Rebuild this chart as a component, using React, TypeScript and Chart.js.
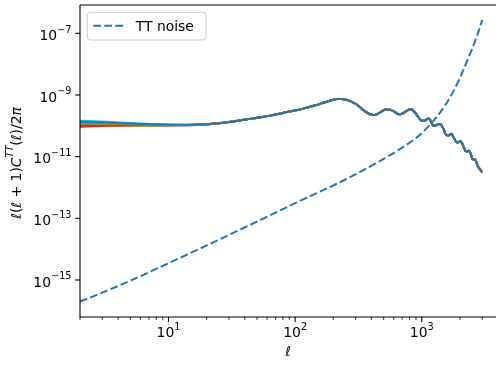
import { useEffect, useRef } from "react";
import { Chart, registerables } from "chart.js";

Chart.register(...registerables);

// Multipoles at which the spectra are sampled
const ELL = [
  2, 3, 4, 5, 6, 8, 10, 13, 16, 20, 25, 30, 36, 44, 55, 65, 80, 100, 120, 140, 160, 180, 200, 215,
  230, 245, 260, 280, 300, 325, 350, 380, 410, 440, 470, 500, 530, 560, 600, 640, 675, 710, 750,
  790, 815, 845, 880, 920, 960, 1000, 1050, 1100, 1130, 1165, 1200, 1235, 1280, 1330, 1390, 1440,
  1500, 1560, 1620, 1680, 1715, 1760, 1820, 1900, 1960, 2020, 2080, 2150, 2214, 2290, 2364, 2430,
  2513, 2580, 2637, 2700, 2786, 2870, 2960, 3000,
];

// Large-scale part (ℓ = 2 … 20) of each model, in units of 1e-10
const LOW_ELL_MODELS = [
  [1.33, 1.27, 1.22, 1.18, 1.15, 1.11, 1.09, 1.08, 1.09, 1.13],
  [1.22, 1.19, 1.16, 1.14, 1.12, 1.09, 1.07, 1.07, 1.08, 1.13],
  [1.18, 1.16, 1.14, 1.12, 1.10, 1.08, 1.07, 1.06, 1.08, 1.13],
  [0.93, 0.99, 1.03, 1.05, 1.06, 1.06, 1.06, 1.06, 1.08, 1.13],
  [1.10, 1.09, 1.08, 1.07, 1.06, 1.05, 1.05, 1.05, 1.07, 1.12],
  [1.03, 1.04, 1.05, 1.05, 1.05, 1.05, 1.05, 1.05, 1.07, 1.12],
  [1.15, 1.13, 1.11, 1.10, 1.09, 1.07, 1.06, 1.06, 1.08, 1.13],
  [1.25, 1.21, 1.18, 1.15, 1.13, 1.10, 1.08, 1.07, 1.08, 1.13],
  [1.04, 1.02, 1.01, 1.0, 0.99, 0.99, 1.0, 1.03, 1.06, 1.12],
  [1.47, 1.38, 1.30, 1.24, 1.19, 1.13, 1.10, 1.08, 1.09, 1.14],
];

// Acoustic peaks and damping tail (ℓ = 25 … 3000), shared by all models, units of 1e-10
const SHARED_TT = [
  1.22, 1.33, 1.48, 1.68, 1.93, 2.18, 2.62, 3.15, 3.75, 4.45, 5.25, 6.15, 7.0, 7.4, 7.45, 7.25,
  6.8, 6.0, 5.2, 4.05, 3.1, 2.5, 2.24, 2.35, 2.75, 3.2, 3.45, 3.35, 2.95, 2.5, 2.36, 2.55, 2.95,
  3.35, 3.45, 3.3, 2.8, 2.15, 1.7, 1.45, 1.45, 1.65, 1.72, 1.55, 1.2, 1.0, 1.02, 1.1, 1.14, 1.0,
  0.72, 0.5, 0.49, 0.54, 0.55, 0.47, 0.36, 0.29, 0.3, 0.32, 0.27, 0.2, 0.152, 0.15, 0.155, 0.125,
  0.083, 0.08, 0.081, 0.065, 0.047, 0.04, 0.033, 0.031,
];

// Instrumental TT noise
const NOISE_ELL = [
  2, 3, 5, 10, 20, 44, 100, 247, 496, 700, 906, 1050, 1191, 1306, 1530, 1766, 2000, 2250, 2470,
  2703, 2850, 3000,
];
const NOISE_TT = [
  1.98e-16, 3.9e-16, 9.5e-16, 3.5e-15, 1.32e-14, 6.1e-14, 3.1e-13, 1.78e-12, 8.3e-12, 1.97e-11,
  4.1e-11, 7.08e-11, 1.22e-10, 1.9e-10, 4.62e-10, 1.26e-9, 3.58e-9, 1.12e-8, 2.8e-8, 7.41e-8,
  1.41e-7, 2.72e-7,
];

const MODEL_COLORS = [
  "#1f77b4", "#ff7f0e", "#2ca02c", "#d62728", "#9467bd",
  "#8c564b", "#e377c2", "#7f7f7f", "#bcbd22", "#17becf",
];

const X_MIN = 2;
const X_MAX = 3855;
const Y_MIN = 6.31e-17;
const Y_MAX = 8.28e-7;
const X_MAJOR = [1, 2, 3];
const Y_MAJOR = [-15, -13, -11, -9, -7];

const FONT = '"DejaVu Sans"';
const FS = 13.9;

type Seg = { t: string; it?: boolean; sup?: boolean };

function drawMath(ctx: CanvasRenderingContext2D, segs: Seg[], x: number, y: number, size: number, align: "left" | "center" | "right") {
  const fontOf = (s: Seg) => `${s.it ? "italic " : ""}${s.sup ? size * 0.7 : size}px ${FONT}`;
  const widths = segs.map((s) => {
    ctx.font = fontOf(s);
    return ctx.measureText(s.t).width;
  });
  const total = widths.reduce((a, b) => a + b, 0);
  let cx = align === "left" ? x : align === "center" ? x - total / 2 : x - total;
  ctx.textAlign = "left";
  ctx.textBaseline = "alphabetic";
  segs.forEach((s, i) => {
    ctx.font = fontOf(s);
    ctx.fillText(s.t, cx, s.sup ? y - size * 0.54 : y);
    cx += widths[i];
  });
}

const powerLabel = (e: number): Seg[] => [{ t: "10" }, { t: String(e).replace("-", "\u2212"), sup: true }];

const axesPlugin = {
  id: "axesDecor",
  afterDraw(chart: any) {
    const { ctx, chartArea: a, scales } = chart;
    const xs = scales.x;
    const ys = scales.y;
    ctx.save();
    ctx.fillStyle = "#000";
    ctx.strokeStyle = "#000";

    // spines
    ctx.lineWidth = 1.1;
    ctx.beginPath();
    ctx.moveTo(a.left, a.top);
    ctx.lineTo(a.right + 1, a.top);
    ctx.moveTo(a.left, a.top);
    ctx.lineTo(a.left, a.bottom);
    ctx.lineTo(a.right + 1, a.bottom);
    ctx.stroke();

    // x ticks
    for (let d = 0; d <= 3; d++) {
      for (let m = 1; m <= 9; m++) {
        const v = m * Math.pow(10, d);
        if (v < X_MIN || v > X_MAX) continue;
        const px = xs.getPixelForValue(v);
        const major = m === 1;
        ctx.lineWidth = major ? 1.1 : 0.85;
        ctx.beginPath();
        ctx.moveTo(px, a.bottom);
        ctx.lineTo(px, a.bottom + (major ? 4.9 : 2.8));
        ctx.stroke();
      }
    }
    X_MAJOR.forEach((e) => {
      const px = xs.getPixelForValue(Math.pow(10, e));
      drawMath(ctx, powerLabel(e), px, a.bottom + 20.3, FS, "center");
    });

    // y ticks
    Y_MAJOR.forEach((e) => {
      const py = ys.getPixelForValue(Math.pow(10, e));
      ctx.lineWidth = 1.1;
      ctx.beginPath();
      ctx.moveTo(a.left, py);
      ctx.lineTo(a.left - 4.9, py);
      ctx.stroke();
      drawMath(ctx, powerLabel(e), a.left - 8.5, py + 6.7, FS, "right");
    });

    // axis titles
    drawMath(ctx, [{ t: "\u2113", it: true }], (a.left + a.right) / 2, a.bottom + 39, FS, "center");
    ctx.save();
    ctx.translate(21, (a.top + a.bottom) / 2 + 2);
    ctx.rotate(-Math.PI / 2);
    drawMath(
      ctx,
      [
        { t: "\u2113", it: true },
        { t: "(" },
        { t: "\u2113", it: true },
        { t: " + 1)" },
        { t: "C", it: true },
        { t: "TT", it: true, sup: true },
        { t: "(" },
        { t: "\u2113", it: true },
        { t: ")/2" },
        { t: "\u03c0", it: true },
      ],
      0,
      0,
      FS,
      "center"
    );
    ctx.restore();

    // legend
    const lx = a.left + 7.3;
    const ly = a.top + 7.3;
    const lw = 118.7;
    const lh = 27.7;
    ctx.beginPath();
    ctx.roundRect(lx, ly, lw, lh, 3);
    ctx.fillStyle = "rgba(255,255,255,0.8)";
    ctx.fill();
    ctx.strokeStyle = "#cccccc";
    ctx.lineWidth = 1;
    ctx.stroke();
    ctx.strokeStyle = MODEL_COLORS[0];
    ctx.lineWidth = 2;
    ctx.setLineDash([7.7, 3.3]);
    ctx.beginPath();
    ctx.moveTo(lx + 6, ly + 13.4);
    ctx.lineTo(lx + 36, ly + 13.4);
    ctx.stroke();
    ctx.setLineDash([]);
    ctx.fillStyle = "#000";
    ctx.font = `${FS}px ${FONT}`;
    ctx.textAlign = "left";
    ctx.textBaseline = "alphabetic";
    ctx.fillText("TT noise", lx + 48.5, ly + 18.5);

    ctx.restore();
  },
};

export default function App() {
  const ref = useRef<HTMLCanvasElement>(null);

  useEffect(() => {
    const modelSets = LOW_ELL_MODELS.map((low, i) => {
      const values = low.concat(SHARED_TT);
      return {
        label: `model ${i + 1}`,
        data: ELL.map((l, k) => ({ x: l, y: values[k] * 1e-10 })),
        borderColor: MODEL_COLORS[i],
        borderWidth: 2,
        pointRadius: 0,
        fill: false,
        cubicInterpolationMode: "monotone" as const,
      };
    });
    const noiseSet = {
      label: "TT noise",
      data: NOISE_ELL.map((l, k) => ({ x: l, y: NOISE_TT[k] })),
      borderColor: MODEL_COLORS[0],
      borderWidth: 2,
      borderDash: [7.7, 3.3],
      pointRadius: 0,
      fill: false,
      cubicInterpolationMode: "monotone" as const,
    };

    const chart = new Chart(ref.current!, {
      type: "line",
      data: { datasets: [...modelSets, noiseSet] },
      options: {
        responsive: false,
        animation: false,
        devicePixelRatio: 1,
        layout: { padding: { left: 80, top: 5, right: 0, bottom: 48 } },
        plugins: { legend: { display: false }, tooltip: { enabled: false } },
        scales: {
          x: { type: "logarithmic", min: X_MIN, max: X_MAX, display: false },
          y: { type: "logarithmic", min: Y_MIN, max: Y_MAX, display: false },
        },
      },
      plugins: [axesPlugin],
    });
    return () => chart.destroy();
  }, []);

  return (
    <div style={{ position: "fixed", left: 0, top: 0, width: 496, height: 365, background: "#fff" }}>
      <canvas ref={ref} width={496} height={365} style={{ display: "block", width: 496, height: 365 }} />
    </div>
  );
}
